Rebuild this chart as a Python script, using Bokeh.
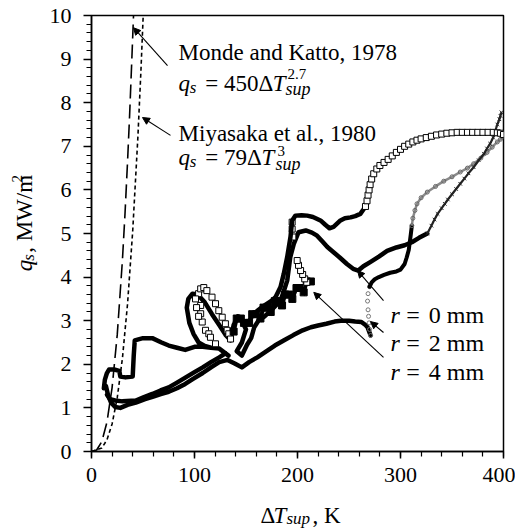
import math
from bokeh.plotting import figure
from bokeh.layouts import row, column
from bokeh.models import Range1d, Label, Arrow, NormalHead, FixedTicker
from bokeh.embed import file_html
from bokeh.resources import INLINE

# ---------------- data ----------------
x_ticks = [0, 100, 200, 300, 400]
x_minor = list(range(0, 401, 20))
y_ticks = [0, 1, 2, 3, 4, 5, 6, 7, 8, 9, 10]
y_minor = [i / 5 for i in range(0, 51)]

# correlations (values of the curves drawn in the chart)
monde_x = [0, 5, 10, 15, 20, 25, 30, 32.5, 35, 37, 39, 40.8]
monde_y = [0, 0.035, 0.226, 0.674, 1.466, 2.68, 4.38, 5.44, 6.65, 7.71, 8.9, 10.0]
miya_x = [0, 10, 15, 20, 25, 30, 35, 40, 45, 48, 50.2]
miya_y = [0, 0.079, 0.267, 0.632, 1.234, 2.133, 3.387, 5.056, 7.199, 8.737, 10.0]

# r = 0 mm (crosses)
r0_dense_x = [12, 13, 15, 17, 22, 27, 28, 33, 40, 41, 42, 50, 59, 68, 75, 83, 91, 100, 108, 116, 124, 133,
              124, 116, 110, 104, 99, 95, 92.5, 94, 98, 103, 110, 117, 124, 130, 135, 138, 142, 146, 150,
              146, 141, 146, 151, 155, 158, 162, 168, 175, 183.5, 187, 190, 193, 196.4, 201, 208, 214, 219,
              224, 229, 235, 241, 248, 254, 259, 264, 271, 279, 287, 296, 304, 311, 318, 326]
r0_dense_y = [1.45, 1.65, 1.8, 1.88, 1.88, 1.85, 1.72, 1.7, 1.72, 2.2, 2.55, 2.6, 2.6, 2.5, 2.43, 2.38, 2.33, 2.4, 2.4, 2.38, 2.36, 2.2,
              2.36, 2.38, 2.42, 2.5, 2.7, 2.95, 3.3, 3.5, 3.62, 3.6, 3.42, 3.15, 2.9, 2.68, 2.55, 2.9, 3.1, 3.0, 2.8,
              2.5, 2.3, 2.2, 2.45, 2.6, 2.85, 3.0, 3.1, 3.25, 3.46, 3.7, 3.92, 4.46, 4.76, 5.03, 5.07, 5.02, 4.95,
              4.82, 4.69, 4.57, 4.45, 4.3, 4.19, 4.15, 4.25, 4.35, 4.47, 4.6, 4.68, 4.73, 4.8, 4.9, 5.0]
r0_top_x = [326, 330, 333, 336, 340, 343, 346, 350, 354, 358, 362, 366, 371, 376, 381, 384, 387, 390, 392, 394, 396, 397, 398]
r0_top_y = [5.0, 5.18, 5.32, 5.45, 5.58, 5.68, 5.78, 5.9, 6.02, 6.14, 6.26, 6.38, 6.52, 6.68, 6.83, 6.95, 7.06, 7.2, 7.35, 7.5, 7.62, 7.7, 7.78]

# r = 2 mm (circles)
r2_dense_x = [14, 16, 19, 23, 28, 35, 43, 52, 60, 68, 75, 83, 91, 99, 108, 116, 124, 132, 139, 146, 153, 161, 170,
              178, 187, 196, 205, 213, 220, 228, 236, 242, 250, 256, 262, 266, 268, 271]
r2_dense_y = [1.5, 1.3, 1.12, 1.02, 1.0, 1.07, 1.12, 1.2, 1.26, 1.32, 1.37, 1.45, 1.55, 1.67, 1.8, 1.93, 2.05, 2.1, 2.02, 1.93, 2.05, 2.16, 2.3,
              2.43, 2.55, 2.67, 2.78, 2.85, 2.89, 2.93, 2.98, 3.0, 3.0, 2.98, 2.97, 2.9, 2.85, 2.66]
r2_jump_x = [271, 270, 269.5, 269, 268.5, 268, 268.5, 270]
r2_jump_y = [2.66, 2.8, 2.95, 3.1, 3.25, 3.45, 3.62, 3.78]
r2_mid_x = [270, 272, 275, 279, 284, 290, 296, 300, 304, 306, 308, 309, 310, 311]
r2_mid_y = [3.78, 3.88, 3.95, 4.0, 4.05, 4.1, 4.13, 4.17, 4.3, 4.45, 4.62, 4.8, 4.98, 5.18]
r2_top_x = [311, 312, 314, 316, 320, 326, 334, 342, 350, 358, 365, 371, 378, 384, 389, 394, 397, 399]
r2_top_y = [5.18, 5.35, 5.53, 5.68, 5.82, 5.95, 6.08, 6.2, 6.3, 6.41, 6.5, 6.6, 6.73, 6.86, 6.98, 7.1, 7.16, 7.21]

# r = 4 mm (squares)
r4_low_x = [15, 18, 23, 30, 43, 51, 59, 67, 75, 83, 91.5, 100, 108, 116, 124, 130]
r4_low_y = [1.3, 1.2, 1.17, 1.15, 1.17, 1.25, 1.32, 1.4, 1.47, 1.58, 1.7, 1.82, 1.93, 2.05, 2.16, 2.25]
r4_loop_x = [104, 106, 109, 112, 117, 120.4, 123.6, 126.9, 130, 131.7, 133.3, 135,
             106, 106, 107.5, 110.7, 113.9, 115.5, 120.4, 101, 102, 104]
r4_loop_y = [3.62, 3.73, 3.76, 3.69, 3.54, 3.39, 3.23, 3.08, 2.93, 2.78, 2.7, 2.58,
             3.35, 3.16, 2.97, 2.78, 2.7, 2.62, 2.47, 3.5, 3.3, 3.1]
r4_jag_x = [138, 141, 145, 148, 153, 156, 160, 164, 167, 171, 174, 178, 181, 185, 188, 192, 195, 199, 202, 206, 209, 213]
r4_jag_y = [2.75, 3.05, 3.05, 2.95, 2.95, 3.15, 3.15, 3.05, 3.3, 3.3, 3.2, 3.45, 3.45, 3.35, 3.6, 3.6, 3.5, 3.75, 3.75, 3.65, 3.9, 3.9]
r4_jump_x = [209, 207, 205, 203, 201, 199.7, 195.5, 194.8, 194.8]
r4_jump_y = [3.88, 3.96, 4.06, 4.15, 4.27, 4.38, 4.92, 5.1, 5.26]
r4_top_x = [151, 156, 161, 166, 170.6, 175, 178.6, 183.5, 186.7, 190, 193.2, 194.8, 198, 204, 209.4, 215, 222.3, 227,
            231, 235, 241.7, 246, 251.5, 256, 261, 264, 266]
r4_top_y = [2.93, 3.1, 3.23, 3.32, 3.39, 3.46, 3.54, 3.77, 4.08, 4.46, 4.92, 5.3, 5.41, 5.42, 5.41, 5.38, 5.3, 5.2,
            5.12, 5.15, 5.3, 5.35, 5.37, 5.4, 5.45, 5.55, 5.62]
r4_upper_x = [266, 267.5, 268.5, 269.5, 270.5, 272, 274, 277, 280, 284, 288, 292, 296, 300, 304, 308, 312, 316, 320,
              325, 330, 335, 340, 345, 350, 355, 360, 365, 370, 375, 380, 385, 390, 394, 397, 400]
r4_upper_y = [5.62, 5.75, 5.88, 6.0, 6.12, 6.25, 6.37, 6.48, 6.56, 6.63, 6.7, 6.78, 6.86, 6.93, 7.0, 7.05, 7.1, 7.14, 7.17,
              7.2, 7.23, 7.26, 7.28, 7.3, 7.31, 7.32, 7.32, 7.32, 7.32, 7.32, 7.32, 7.32, 7.32, 7.31, 7.3, 7.27]

# ---------------- figure ----------------
FONT = "Liberation Serif"
YL_W = 40          # width of the strip holding the y title
P_H = 496          # main figure height
XL_H = 33          # height of the strip holding the x title

p = figure(width=475, height=P_H, x_range=Range1d(0, 400), y_range=Range1d(0, 10),
           output_backend="svg", toolbar_location=None,
           min_border_left=51, min_border_right=12, min_border_top=15, min_border_bottom=45,
           background_fill_color="white", border_fill_color="white")
p.xgrid.visible = False
p.ygrid.visible = False
p.outline_line_color = "black"
p.outline_line_width = 1.5

for ax in (p.xaxis[0], p.yaxis[0]):
    ax.axis_line_width = 1.5
    ax.axis_line_color = "black"
    ax.major_tick_line_width = 1.5
    ax.minor_tick_line_width = 1.2
    ax.major_tick_line_color = "black"
    ax.minor_tick_line_color = "black"
    ax.major_tick_in = 0
    ax.minor_tick_in = 0
    ax.major_label_text_font = FONT
    ax.major_label_text_font_size = "22px"
    ax.major_label_text_color = "black"

p.xaxis[0].ticker = FixedTicker(ticks=x_ticks, minor_ticks=x_minor)
p.yaxis[0].ticker = FixedTicker(ticks=y_ticks, minor_ticks=y_minor)
p.xaxis[0].major_tick_out = 7
p.xaxis[0].minor_tick_out = 5
p.yaxis[0].major_tick_out = 8
p.yaxis[0].minor_tick_out = 5
p.xaxis[0].major_label_standoff = 9
p.yaxis[0].major_label_standoff = 12

# correlation curves
p.line(monde_x, monde_y, line_color="black", line_width=1.6, line_dash="14 6")
p.line(miya_x, miya_y, line_color="black", line_width=1.6, line_dash="4 3")

# r = 2 mm (circles)
p.line(r2_dense_x, r2_dense_y, line_color="black", line_width=4.5, line_join="round", line_cap="round")
p.scatter(r2_jump_x, r2_jump_y, marker="circle", size=4, line_color="#777777", fill_color=None, line_width=1)
p.line(r2_mid_x, r2_mid_y, line_color="black", line_width=4, line_join="round", line_cap="round")
p.line(r2_top_x, r2_top_y, line_color="#8a8a8a", line_width=2.5, line_join="round")
p.scatter(r2_top_x, r2_top_y, marker="circle", size=4, line_color="#666666", fill_color=None, line_width=1)

# r = 0 mm (crosses)
p.line(r0_dense_x, r0_dense_y, line_color="black", line_width=4.5, line_join="round", line_cap="round")
p.line(r0_top_x, r0_top_y, line_color="#222222", line_width=2.2, line_join="round")
p.scatter(r0_top_x, r0_top_y, marker="x", size=5, line_color="#222222", line_width=1)

# r = 4 mm (squares)
p.line(r4_low_x, r4_low_y, line_color="black", line_width=4.5, line_join="round", line_cap="round")
p.scatter(r4_loop_x, r4_loop_y, marker="square", size=6, line_color="black", fill_color="white", line_width=1)
p.line(r4_jag_x, r4_jag_y, line_color="black", line_width=4, line_join="miter")
p.scatter(r4_jag_x, r4_jag_y, marker="square", size=7, line_color="black", fill_color="black")
p.scatter(r4_jump_x, r4_jump_y, marker="square", size=6, line_color="black", fill_color="white", line_width=1)
p.line(r4_top_x, r4_top_y, line_color="black", line_width=4.5, line_join="round", line_cap="round")
p.scatter(r4_upper_x, r4_upper_y, marker="square", size=6, line_color="black", fill_color="white", line_width=1)


def lab(fig, x, y, text, size, style="normal", angle=0.0):
    fig.add_layout(Label(x=x, y=y, text=text, text_font=FONT,
                         text_font_size=size, text_font_style=style, angle=angle,
                         text_color="black", text_align="left", text_baseline="alphabetic"))


def arrow(x0, y0, x1, y1):
    p.add_layout(Arrow(end=NormalHead(size=7, fill_color="black", line_color="black"),
                       x_start=x0, y_start=y0, x_end=x1, y_end=y1,
                       line_color="black", line_width=1.1))


# annotations: correlations
lab(p, 84.5, 9.15, "Monde and Katto, 1978", "23px")
lab(p, 84.5, 8.44, "q", "23px", "italic")
lab(p, 95.5, 8.35, "s", "17px", "italic")
lab(p, 110.5, 8.44, "= 450Δ", "23px")
lab(p, 176.0, 8.44, "T", "23px", "italic")
lab(p, 190.3, 8.65, "2.7", "15px")
lab(p, 188.3, 8.31, "sup", "18px", "italic")
arrow(73.8, 8.85, 40.8, 9.72)

lab(p, 84.5, 7.29, "Miyasaka et al., 1980", "23px")
lab(p, 84.5, 6.74, "q", "23px", "italic")
lab(p, 95.5, 6.65, "s", "17px", "italic")
lab(p, 110.5, 6.74, "= 79Δ", "23px")
lab(p, 165.0, 6.74, "T", "23px", "italic")
lab(p, 180.6, 6.90, "3", "15px")
lab(p, 178.6, 6.60, "sup", "18px", "italic")
arrow(76.7, 7.25, 49.5, 7.66)

# r labels
for yb, txt in ((3.12, "0 mm"), (2.48, "2 mm"), (1.83, "4 mm")):
    lab(p, 290.3, yb, "r", "24px", "italic")
    lab(p, 305.5, yb, "=", "24px")
    lab(p, 327.5, yb, txt, "24px")
arrow(283.5, 3.46, 258.3, 4.15)
arrow(283.5, 2.73, 270.9, 2.98)
arrow(283.5, 2.16, 215.8, 3.65)


def strip(w, h):
    f = figure(width=w, height=h, x_range=Range1d(0, w), y_range=Range1d(0, h),
               output_backend="svg", toolbar_location=None, min_border=0,
               x_axis_type=None, y_axis_type=None,
               background_fill_color="white", border_fill_color="white")
    f.outline_line_color = None
    f.xgrid.visible = False
    f.ygrid.visible = False
    return f


# y title strip (pixel coordinates, y measured from the strip bottom)
fy = strip(YL_W, P_H)
ang = math.pi / 2
lab(fy, 24, P_H - 291, "q", "23px", "italic", ang)
lab(fy, 28, P_H - 279, "s", "17px", "italic", ang)
lab(fy, 24, P_H - 270, ", MW/m", "23px", "normal", ang)
lab(fy, 16, P_H - 190, "2", "15px", "normal", ang)

# x title strip
fx = strip(YL_W + 475, XL_H)
lab(fx, 260, 14, "Δ", "23px")
lab(fx, 273, 14, "T", "23px", "italic")
lab(fx, 286, 11, "sup", "17px", "italic")
lab(fx, 312, 14, ", K", "23px")

layout = column(row(fy, p, spacing=0), fx, spacing=0)
open("out.html", "w").write(file_html(layout, INLINE))
